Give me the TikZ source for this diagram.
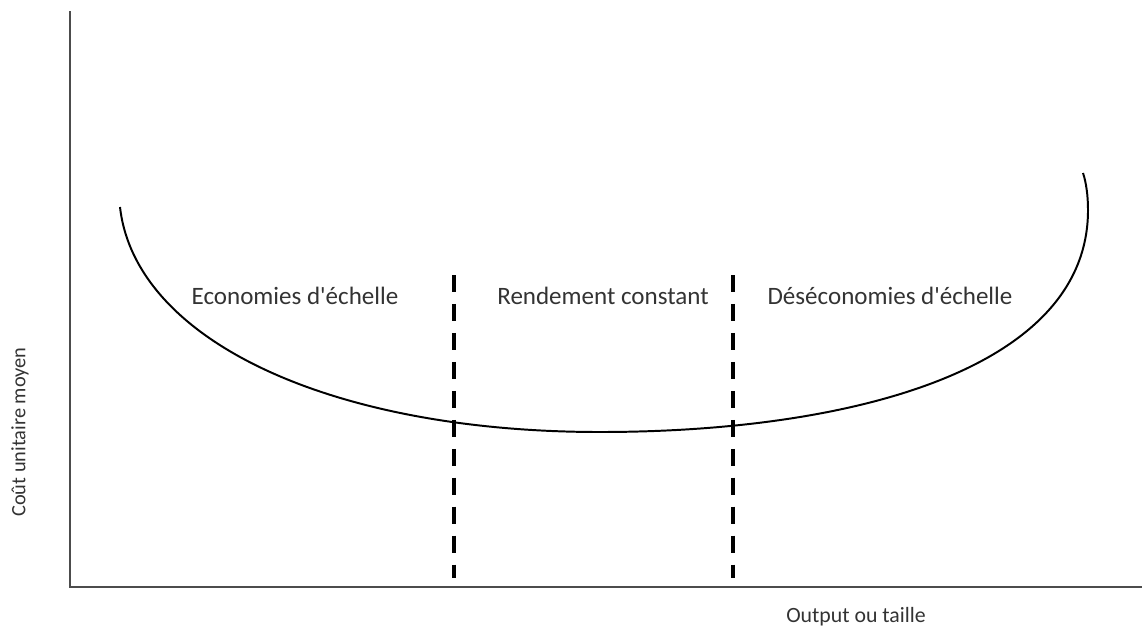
\documentclass[tikz,border=0pt]{standalone}
\usepackage{fontspec}
\setmainfont{Carlito}[Ligatures=TeXOff]

\begin{document}
\begin{tikzpicture}[x=0.25mm, y=-0.25mm, font=\fontsize{17.8}{21}\selectfont, line width=0.75pt, text=black!80]
        \useasboundingbox (0,0) rectangle (1142,629);

        % axes
        \coordinate(top) at (70,11);
        \coordinate(o) at (70,587);
        \coordinate(xend) at (1142,587);
        \draw[-, black!70, line width=1pt] (top) -- (o) -- (xend);

        \node(yl) at (20,432) [rotate=90, font=\fontsize{14.5}{17}\selectfont] {Coût unitaire moyen};
        \node(xl) at (856,617) [font=\fontsize{15.5}{18}\selectfont] {Output ou taille};

        % average cost curve
        \coordinate(cl) at (120,207);
        \coordinate(cmin) at (600,432);
        \coordinate(cr) at (1088,210);
        \coordinate(cend) at (1083,173);
        \draw[-, line width=1.4pt] (cl) .. controls (135,340) and (330,432) .. (cmin)
            .. controls (850,432) and (1088,370) .. (cr)
            .. controls (1088,195) and (1086,182) .. (cend);

        % zone limits
        \coordinate(d1t) at (454,275);
        \coordinate(d1b) at (454,578);
        \coordinate(d2t) at (733,275);
        \coordinate(d2b) at (733,578);
        \draw[-, line width=2.8pt, dash pattern=on 12.1pt off 8.5pt] (d1t) -- (d1b);
        \draw[-, line width=2.8pt, dash pattern=on 12.1pt off 8.5pt] (d2t) -- (d2b);

        \node(eco) at (295,296) {Economies d'échelle};
        \node(rc) at (603,296) {Rendement constant};
        \node(deseco) at (890,296) {Déséconomies d'échelle};
\end{tikzpicture}
\end{document}
